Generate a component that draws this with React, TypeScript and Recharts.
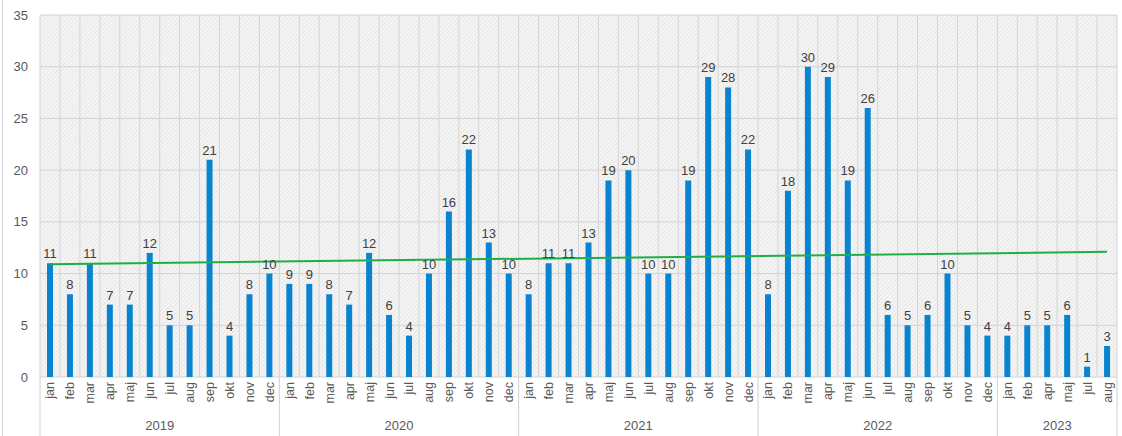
import { ComposedChart, Bar, Line, XAxis, YAxis, CartesianGrid, LabelList } from 'recharts';

const years = ['2019', '2020', '2021', '2022', '2023'];

const months2019 = ['jan', 'feb', 'mar', 'apr', 'maj', 'jun', 'jul', 'aug', 'sep', 'okt', 'nov', 'dec'];
const months2020 = ['jan', 'feb', 'mar', 'apr', 'maj', 'jun', 'jul', 'aug', 'sep', 'okt', 'nov', 'dec'];
const months2021 = ['jan', 'feb', 'mar', 'apr', 'maj', 'jun', 'jul', 'aug', 'sep', 'okt', 'nov', 'dec'];
const months2022 = ['jan', 'feb', 'mar', 'apr', 'maj', 'jun', 'jul', 'aug', 'sep', 'okt', 'nov', 'dec'];
const months2023 = ['jan', 'feb', 'apr', 'maj', 'jul', 'aug'];

const values2019 = [11, 8, 11, 7, 7, 12, 5, 5, 21, 4, 8, 10];
const values2020 = [9, 9, 8, 7, 12, 6, 4, 10, 16, 22, 13, 10];
const values2021 = [8, 11, 11, 13, 19, 20, 10, 10, 19, 29, 28, 22];
const values2022 = [8, 18, 30, 29, 19, 26, 6, 5, 6, 10, 5, 4];
const values2023 = [4, 5, 5, 6, 1, 3];

// trendline end points
const trendStart = 10.9;
const trendEnd = 12.1;

const yTicks = [0, 5, 10, 15, 20, 25, 30, 35];

const monthsByYear = [months2019, months2020, months2021, months2022, months2023];
const valuesByYear = [values2019, values2020, values2021, values2022, values2023];

type Row = { label: string; year: string; first: boolean; mid: boolean; value: number; trend: number | null };

const data: Row[] = [];
monthsByYear.forEach((months, yi) => {
  months.forEach((m, mi) => {
    data.push({
      label: m,
      year: years[yi],
      first: mi === 0,
      mid: mi === Math.floor(months.length / 2) - 1,
      value: valuesByYear[yi][mi],
      trend: null,
    });
  });
});
data[0].trend = trendStart;
data[data.length - 1].trend = trendEnd;

const W = 1122;
const H = 436;
const M = { top: 15, right: 5, left: 0, bottom: 0 };
const Y_WIDTH = 40;
const plotWidth = W - M.left - M.right - Y_WIDTH;
const band = plotWidth / data.length;
const FONT = '"Liberation Sans", Arial, sans-serif';

function MonthTick(props: any) {
  const { x, y, payload, index } = props;
  const row = data[index];
  const top = y - 8;
  const left = x - band / 2;
  const isLast = index === data.length - 1;
  return (
    <g>
      <text
        x={0}
        y={0}
        transform={`translate(${x + 4.5},${top + 5}) rotate(-90)`}
        textAnchor="end"
        fontSize={12.5}
        fill="#595959"
        fontFamily={FONT}
      >
        {payload.value}
      </text>
      {row.first && <line x1={left} x2={left} y1={top} y2={H} stroke="#d0d0d0" />}
      {isLast && <line x1={x + band / 2} x2={x + band / 2} y1={top} y2={H} stroke="#d0d0d0" />}
      {row.mid && (
        <text x={x + band / 2} y={top + 53} textAnchor="middle" fontSize={13} fill="#595959" fontFamily={FONT}>
          {row.year}
        </text>
      )}
    </g>
  );
}

export default function App() {
  return (
    <div style={{ position: 'absolute', left: 0, top: 0, width: W, height: H, background: '#fff' }}>
      <svg width={0} height={0} style={{ position: 'absolute' }}>
        <defs>
          <pattern id="hatch" width="3" height="3" patternUnits="userSpaceOnUse" patternTransform="rotate(45)">
            <rect width="3" height="3" fill="#f5f5f5" />
            <line x1="0" y1="0" x2="0" y2="3" stroke="#dcdcdc" strokeWidth="1.2" />
          </pattern>
        </defs>
      </svg>
      <div style={{ position: 'absolute', left: 2, top: 0, width: 1, height: H, background: '#d9d9d9' }} />
      <ComposedChart width={W} height={H} data={data} margin={M} barCategoryGap={0}>
        <CartesianGrid
          fill="url(#hatch)"
          fillOpacity={1}
          stroke="#d4d4d4"
          strokeDasharray=""
          verticalCoordinatesGenerator={({ offset }: any) =>
            data.map((_, i) => offset.left + i * (offset.width / data.length)).concat(offset.left + offset.width)
          }
        />
        <XAxis
          dataKey="label"
          interval={0}
          tickLine={false}
          axisLine={false}
          height={H - 377}
          tick={<MonthTick />}
        />
        <YAxis
          domain={[0, 35]}
          ticks={yTicks}
          width={Y_WIDTH}
          axisLine={false}
          tickLine={false}
          tickMargin={6}
          tick={{ fontSize: 13, fill: '#595959', fontFamily: FONT }}
        />
        <Bar dataKey="value" fill="#0a84d0" barSize={6} isAnimationActive={false}>
          <LabelList dataKey="value" position="top" offset={5} fontSize={13} fill="#404040" fontFamily={FONT} />
        </Bar>
        <Line
          dataKey="trend"
          connectNulls
          stroke="#1eae48"
          strokeWidth={2}
          dot={false}
          activeDot={false}
          isAnimationActive={false}
        />
      </ComposedChart>
    </div>
  );
}
